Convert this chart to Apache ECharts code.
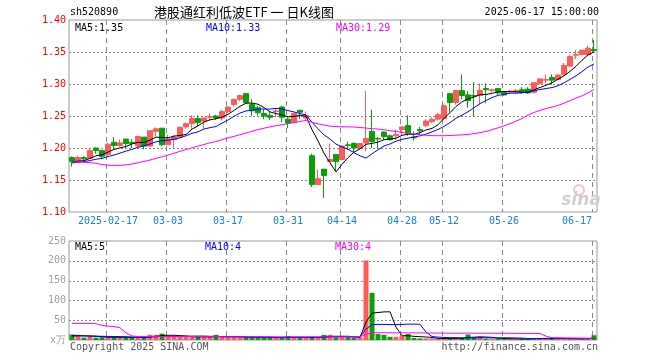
<!DOCTYPE html>
<html><head><meta charset="utf-8">
<script src="https://cdn.jsdelivr.net/npm/echarts@6/dist/echarts.min.js"></script>
<style>html,body{margin:0;padding:0;background:#fff}#c{width:660px;height:360px}</style>
</head><body><div id="c"></div>
<script>
const dates = ['2025-02-07','2025-02-10','2025-02-11','2025-02-12','2025-02-13','2025-02-14','2025-02-17','2025-02-18','2025-02-19','2025-02-20','2025-02-21','2025-02-24','2025-02-25','2025-02-26','2025-02-27','2025-02-28',
'2025-03-03','2025-03-04','2025-03-05','2025-03-06','2025-03-07','2025-03-10','2025-03-11','2025-03-12','2025-03-13','2025-03-14','2025-03-17','2025-03-18','2025-03-19','2025-03-20','2025-03-21','2025-03-24','2025-03-25','2025-03-26','2025-03-27','2025-03-28','2025-03-31',
'2025-04-01','2025-04-02','2025-04-03','2025-04-07','2025-04-08','2025-04-09','2025-04-10','2025-04-11','2025-04-14','2025-04-15','2025-04-16','2025-04-17','2025-04-18','2025-04-21','2025-04-22','2025-04-23','2025-04-24','2025-04-25','2025-04-28','2025-04-29','2025-04-30',
'2025-05-06','2025-05-07','2025-05-08','2025-05-09','2025-05-12','2025-05-13','2025-05-14','2025-05-15','2025-05-16','2025-05-19','2025-05-20','2025-05-21','2025-05-22','2025-05-23','2025-05-26','2025-05-27','2025-05-28','2025-05-29','2025-05-30',
'2025-06-03','2025-06-04','2025-06-05','2025-06-06','2025-06-09','2025-06-10','2025-06-11','2025-06-12','2025-06-13','2025-06-16','2025-06-17'];

const opens = [1.185,1.180,1.185,1.184,1.200,1.196,1.190,1.209,1.204,1.214,1.209,1.203,1.217,1.203,1.226,1.231,1.205,1.213,1.217,1.233,1.238,1.246,1.242,1.248,1.250,1.247,1.257,1.268,1.276,1.285,
1.268,1.263,1.254,1.251,1.257,1.264,1.245,1.240,1.259,1.247,1.188,1.143,1.167,1.179,1.190,1.182,1.205,1.207,1.199,1.208,1.226,1.215,1.225,1.219,1.219,1.229,1.235,1.217,1.229,1.235,
1.241,1.245,1.246,1.285,1.271,1.290,1.283,1.282,1.282,1.293,1.290,1.293,1.287,1.288,1.288,1.291,1.292,1.287,1.301,1.306,1.310,1.307,1.315,1.328,1.345,1.346,1.346,1.354];
const closes = [1.179,1.185,1.183,1.196,1.196,1.187,1.206,1.204,1.208,1.207,1.207,1.218,1.203,1.227,1.230,1.205,1.214,1.217,1.232,1.238,1.246,1.240,1.247,1.249,1.247,1.257,1.264,1.276,1.282,1.271,
1.258,1.255,1.250,1.248,1.258,1.248,1.239,1.254,1.256,1.251,1.143,1.152,1.157,1.182,1.179,1.203,1.204,1.200,1.207,1.215,1.210,1.214,1.218,1.213,1.221,1.233,1.223,1.216,1.227,1.242,
1.245,1.252,1.266,1.271,1.290,1.282,1.274,1.281,1.290,1.291,1.291,1.286,1.283,1.289,1.290,1.287,1.286,1.302,1.308,1.307,1.306,1.314,1.329,1.343,1.346,1.353,1.356,1.352];
const lows = [1.171,1.179,1.181,1.183,1.191,1.184,1.188,1.199,1.202,1.200,1.200,1.202,1.198,1.202,1.218,1.203,1.205,1.198,1.216,1.230,1.230,1.234,1.230,1.243,1.244,1.243,1.255,1.265,1.273,1.271,
1.250,1.251,1.245,1.244,1.248,1.240,1.231,1.239,1.245,1.244,1.139,1.143,1.122,1.178,1.164,1.181,1.197,1.192,1.198,1.195,1.200,1.200,1.213,1.212,1.213,1.219,1.219,1.212,1.222,1.233,
1.239,1.243,1.244,1.255,1.268,1.276,1.263,1.250,1.268,1.270,1.287,1.283,1.282,1.286,1.285,1.285,1.285,1.285,1.299,1.301,1.299,1.306,1.313,1.327,1.339,1.345,1.344,1.350];
const highs = [1.187,1.188,1.187,1.199,1.201,1.197,1.208,1.217,1.213,1.214,1.214,1.219,1.217,1.227,1.232,1.231,1.221,1.220,1.234,1.240,1.251,1.251,1.247,1.254,1.252,1.260,1.265,1.277,1.283,1.285,
1.276,1.266,1.260,1.257,1.262,1.266,1.248,1.255,1.259,1.257,1.191,1.166,1.167,1.207,1.190,1.204,1.210,1.209,1.207,1.289,1.260,1.217,1.226,1.221,1.229,1.233,1.251,1.226,1.233,1.245,
1.248,1.255,1.268,1.285,1.290,1.315,1.289,1.303,1.301,1.301,1.293,1.293,1.289,1.290,1.292,1.295,1.295,1.302,1.309,1.315,1.315,1.315,1.333,1.345,1.353,1.353,1.360,1.369];
// closes of the 9 trading days before the window (estimated so the MA lines start where the picture shows)
const priorCloses = [1.172,1.175,1.178,1.176,1.174,1.177,1.180,1.178,1.176];
const ma30Price = [1.1780,1.1780,1.1778,1.1772,1.1760,1.1742,1.1730,1.1728,1.1730,1.1736,
1.1750,1.1770,1.1790,1.1812,1.1838,1.1862,1.1890,1.1918,1.1948,1.1975,
1.2002,1.2030,1.2055,1.2080,1.2102,1.2130,1.2158,1.2182,1.2208,1.2234,
1.2262,1.2288,1.2310,1.2330,1.2348,1.2364,1.2380,1.2398,1.2415,1.2430,
1.2402,1.2378,1.2358,1.2342,1.2334,1.2332,1.2330,1.2328,1.2320,1.2312,
1.2302,1.2296,1.2286,1.2270,1.2258,1.2245,1.2230,1.2218,1.2207,1.2199,
1.2193,1.2192,1.2192,1.2195,1.2200,1.2205,1.2212,1.2224,1.2240,1.2258,
1.2286,1.2315,1.2345,1.2380,1.2420,1.2460,1.2515,1.2555,1.2588,1.2615,
1.2640,1.2665,1.2700,1.2740,1.2780,1.2815,1.2860,1.2915];

const volumes = [14,13,6,9,6,7,7,7,7,6, 7,7,7,13,13,16,10,8,8,8, 8,8,7,7,13,8,7,7,7,7,
7,6,6,6,6,6,10,6,6,6, 7,7,13,13,7,7,7,5,7,201, 119,15,13,8,8,10,15,5,4,4,
4,3,3,3,6,6,14,6,8,3, 3,3,3,3,2,3,3,5,5,4, 4,3,3,3,3,3,3,12];
const priorVolumes = [9,11,10,12,9,10,8,11,9];
const ma30Vol = [42,42,42,42,41,37,35,34,31,18,10,
9,9,9,9,9,9,9,9,9,9,9,9,9,9,8,8,8,8,8,8,8,8,8,8,8,8,8,8,8,8,8,8,8,8,8,8,8,8,
14.5,18.3,
18.3,18.2,18.2,18.1,18.1,18.0,17.9,17.8,17.7,17.6,17.5,17.4,17.3,17.3,17.2,17.4,17.3,17.3,17.2,17.1,17.0,16.9,16.8,16.7,16.6,16.6,16.5,16.4,
9.7,5.8,5.6,5.4,5.2,5.0,4.8,4.6,4.4];

const labelIdx = [6,16,26,36,45,55,62,72,87];
const priceTicks = {min:1.10, max:1.40, step:0.05};
const volTicks = {min:0, max:250, step:50};

function movingAvg(vals, prior, n, dp) {
  const all = prior.concat(vals);
  return vals.map((_, i) => {
    const j = i + prior.length;
    if (j + 1 < n) return '-';
    let s = 0;
    for (let t = j - n + 1; t <= j; t++) s += all[t];
    return +(s / n).toFixed(dp);
  });
}
function tickLevels(t) {
  const out = [];
  const n = Math.round((t.max - t.min) / t.step);
  for (let k = 1; k < n; k++) out.push(+(t.min + k * t.step).toFixed(4));
  return out;
}
const ma5 = movingAvg(closes, priorCloses, 5, 4);
const ma10 = movingAvg(closes, priorCloses, 10, 4);
const vma5 = movingAvg(volumes, priorVolumes, 5, 2);
const vma10 = movingAvg(volumes, priorVolumes, 10, 2);

const RED = '#ff5a5a', GREEN = '#0a9f0a';
const MONO = '"DejaVu Sans Mono", monospace';
const GRIDC = '#8a8a8a';
const kData = dates.map((d, i) => [opens[i], closes[i], lows[i], highs[i]]);
const volData = volumes.map((v, i) => ({value: v, itemStyle: {color: closes[i] >= opens[i] ? RED : GREEN}}));
const last = dates.length - 1;
const isLabel = (i) => labelIdx.indexOf(i) >= 0;

// grid guide lines drawn by custom series through the axes' scales
function vLineSeries(xi, yi, t) {
  return {type: 'custom', xAxisIndex: xi, yAxisIndex: yi, silent: true, z: 1, clip: false,
    data: labelIdx.map((i) => [i, t.min, t.max]),
    renderItem: (params, api) => {
      const top = api.coord([api.value(0), api.value(2)]);
      const bot = api.coord([api.value(0), api.value(1)]);
      const x = Math.round(top[0]) - 2 + 0.5;
      return {type: 'line', shape: {x1: x, y1: top[1], x2: x, y2: bot[1]},
        style: {stroke: GRIDC, lineWidth: 1, lineDash: [5, 4], fill: null}};
    }};
}
function hLineSeries(xi, yi, t) {
  return {type: 'custom', xAxisIndex: xi, yAxisIndex: yi, silent: true, z: 1, clip: false,
    data: tickLevels(t).map((v) => [0, v]),
    renderItem: (params, api) => {
      const cs = params.coordSys;
      const p = api.coord([0, api.value(1)]);
      const y = Math.round(p[1]) + 0.5;
      return {type: 'line', shape: {x1: cs.x, y1: y, x2: cs.x + cs.width, y2: y},
        style: {stroke: GRIDC, lineWidth: 1, lineDash: [2, 2], fill: null}};
    }};
}

function txt(text, x, y, color, font, align) {
  return {type: 'text', silent: true, z: 100, style: {text: text, x: x, y: y, fill: color, font: font,
    align: align || 'left', textAlign: align || 'left', verticalAlign: 'middle', textVerticalAlign: 'middle'}};
}
const F10 = '10px ' + MONO;

const chart = echarts.init(document.getElementById('c'));
chart.setOption({
  animation: false,
  grid: [
    {left: 69, top: 20, width: 528, height: 192, show: true, borderColor: '#999', backgroundColor: 'rgba(0,0,0,0)'},
    {left: 69, top: 241, width: 528, height: 99, show: true, borderColor: '#999', backgroundColor: 'rgba(0,0,0,0)'}
  ],
  xAxis: [
    {type: 'category', gridIndex: 0, data: dates,
     axisLine: {show: false}, axisTick: {show: false}, splitLine: {show: false},
     axisLabel: {interval: isLabel, color: '#1a80d0', fontFamily: MONO, fontSize: 10, margin: 4,
       formatter: (v, i) => i === 6 ? v : (i === last ? '{r|' + v.slice(5) + '}' : v.slice(5)),
       rich: {r: {color: '#1a80d0', fontFamily: MONO, fontSize: 10, padding: [0, 34, 0, 0]}}}},
    {type: 'category', gridIndex: 1, data: dates,
     axisLine: {show: false}, axisTick: {show: false}, axisLabel: {show: false}, splitLine: {show: false}}
  ],
  yAxis: [
    {type: 'value', gridIndex: 0, min: priceTicks.min, max: priceTicks.max, interval: priceTicks.step,
     axisLine: {show: false}, axisTick: {show: false}, splitLine: {show: false},
     axisLabel: {color: '#ff0000', fontFamily: MONO, fontSize: 10, margin: 3, formatter: (v) => v.toFixed(2)}},
    {type: 'value', gridIndex: 1, min: volTicks.min, max: volTicks.max, interval: volTicks.step,
     axisLine: {show: false}, axisTick: {show: false}, splitLine: {show: false},
     axisLabel: {color: '#a0a0a0', fontFamily: MONO, fontSize: 10, margin: 3, formatter: (v) => v === 0 ? 'x万' : String(v)}}
  ],
  series: [
    vLineSeries(0, 0, priceTicks),
    hLineSeries(0, 0, priceTicks),
    vLineSeries(1, 1, volTicks),
    hLineSeries(1, 1, volTicks),
    {type: 'candlestick', xAxisIndex: 0, yAxisIndex: 0, data: kData, barWidth: 5, z: 3,
     itemStyle: {color: RED, color0: GREEN, borderColor: RED, borderColor0: GREEN, borderWidth: 1}},
    {type: 'line', xAxisIndex: 0, yAxisIndex: 0, data: ma5, symbol: 'none', z: 4, lineStyle: {color: '#000', width: 1}, itemStyle: {color: '#000'}},
    {type: 'line', xAxisIndex: 0, yAxisIndex: 0, data: ma10, symbol: 'none', z: 4, lineStyle: {color: '#0000ff', width: 1}, itemStyle: {color: '#0000ff'}},
    {type: 'line', xAxisIndex: 0, yAxisIndex: 0, data: ma30Price, symbol: 'none', z: 4, lineStyle: {color: '#ff00ff', width: 1}, itemStyle: {color: '#ff00ff'}},
    {type: 'bar', xAxisIndex: 1, yAxisIndex: 1, data: volData, barWidth: 5, z: 3},
    {type: 'line', xAxisIndex: 1, yAxisIndex: 1, data: vma5, symbol: 'none', z: 4, lineStyle: {color: '#000', width: 1}, itemStyle: {color: '#000'}},
    {type: 'line', xAxisIndex: 1, yAxisIndex: 1, data: vma10, symbol: 'none', z: 4, lineStyle: {color: '#0000ff', width: 1}, itemStyle: {color: '#0000ff'}},
    {type: 'line', xAxisIndex: 1, yAxisIndex: 1, data: ma30Vol, symbol: 'none', z: 4, lineStyle: {color: '#ff00ff', width: 1}, itemStyle: {color: '#ff00ff'}}
  ],
  graphic: [
    txt('sh520890', 70, 12, '#000', F10, 'left'),
    txt('港股通红利低波ETF 一 日K线图', 244, 12, '#000', '13px "Noto Sans CJK SC", sans-serif', 'center'),
    txt('2025-06-17 15:00:00', 599, 12, '#000', F10, 'right'),
    txt('MA5:' + ma5[last].toFixed(2), 75, 28, '#000', F10, 'left'),
    txt('MA10:' + ma10[last].toFixed(2), 206, 28, '#0000ff', F10, 'left'),
    txt('MA30:' + ma30Price[last].toFixed(2), 336, 28, '#ff00ff', F10, 'left'),
    txt('MA5:' + Math.round(vma5[last]), 75, 247, '#000', F10, 'left'),
    txt('MA10:' + Math.round(vma10[last]), 205, 247, '#0000ff', F10, 'left'),
    txt('MA30:' + Math.round(ma30Vol[last]), 335, 247, '#ff00ff', F10, 'left'),
    txt('Copyright 2025 SINA.COM', 70, 347, '#555', F10, 'left'),
    txt('http://finance.sina.com.cn', 598, 347, '#555', F10, 'right'),
    {type: 'circle', silent: true, z: 1, shape: {cx: 579, cy: 190, r: 5}, style: {fill: 'none', stroke: '#f3c4c4', lineWidth: 2}},
    txt('sina', 581, 201, '#cfcfcf', 'italic bold 17px "DejaVu Sans", sans-serif', 'center')
  ]
});
</script></body></html>
